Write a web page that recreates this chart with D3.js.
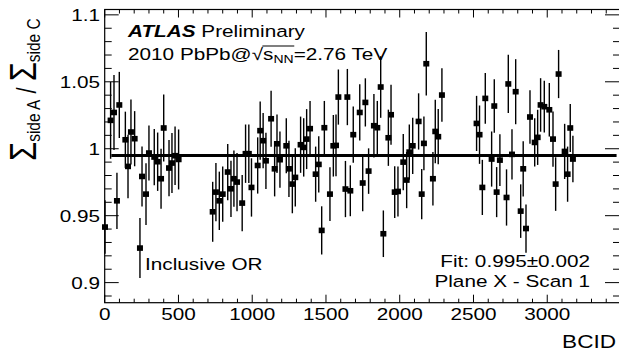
<!DOCTYPE html>
<html>
<head>
<meta charset="utf-8">
<script src="https://cdn.jsdelivr.net/npm/d3@7"></script>
<style>
  body { margin: 0; background: #fff; }
  text { font-family: "Liberation Sans", Arial, sans-serif; fill: #000; }
</style>
</head>
<body>
<script>
var w = 619;
var h = 354;

// plot frame (right edge sits just off the picture, as in the original)
var padL = 104.7, padR = 621, padT = 9.5, padB = 302.7;
var sx = 1.22; // the original picture is stretched sideways

var bcid = [
  2, 40, 63, 83, 99, 140, 158, 178, 203, 239, 253, 280, 300, 336, 359, 382, 400, 436, 456, 477, 501,
  732, 754, 777, 800, 834, 856, 876, 897, 932, 955, 977, 995, 1037, 1054, 1074, 1093, 1128, 1152, 1168,
  1188, 1231, 1249, 1272, 1292, 1328, 1349, 1369, 1392, 1430, 1451, 1471, 1489, 1527, 1550, 1568, 1584,
  1632, 1645, 1665, 1685, 1729, 1749, 1767, 1789, 1825, 1848, 1871, 1889, 1923, 1941, 1966, 1988, 2024,
  2047, 2065, 2088, 2128, 2149, 2164, 2180, 2225, 2241, 2261, 2286,
  2521, 2541, 2560, 2580, 2623, 2641, 2657, 2679, 2724, 2736, 2761, 2786, 2820, 2837, 2856, 2883, 2915,
  2935, 2955, 2980, 3014, 3039, 3057, 3077, 3118, 3138, 3156, 3174
];

var ratio = [
  0.9415, 1.0212, 1.0271, 0.9611, 1.0327, 1.0067, 0.9868, 1.0125, 1.0075, 0.9258, 0.9793, 0.9661, 0.9968,
  0.9938, 0.9903, 0.9776, 1.0155, 0.9856, 0.9893, 0.9948, 0.9920,
  0.9529, 0.9676, 0.9611, 0.9661, 0.9826, 0.9701, 0.9776, 0.9751, 0.9594, 0.9963, 0.9963, 0.9711, 0.9875,
  1.0135, 1.0060, 0.9910, 1.0224, 0.9850, 1.0037, 0.9918, 1.0022, 0.9850, 0.9736, 0.9786, 1.0030, 1.0010,
  1.0072, 1.0150, 0.9810, 0.9883, 0.9390, 1.0157, 0.9661, 1.0022, 1.0025, 1.0386, 0.9699, 1.0386, 0.9686,
  1.0105, 1.0271, 0.9744, 1.0346, 0.9833, 1.0172, 1.0157, 1.0461, 0.9365, 1.0082, 1.0254, 0.9676, 0.9681,
  0.9900, 0.9766, 0.9975, 1.0022, 1.0204, 0.9661, 1.0040, 1.0635, 0.9776, 1.0129, 1.0090, 1.0401,
  1.0189, 1.0105, 0.9711, 1.0376, 0.9923, 1.0319, 0.9676, 0.9915, 0.9636, 1.0484, 0.9958, 1.0426, 0.9534,
  0.9850, 0.9404, 1.0237, 1.0047, 1.0085, 1.0327, 1.0314, 1.0291, 1.0072, 0.9736, 1.0558, 0.9980, 0.9810,
  1.0155, 0.9923
];

var ratioErr = [
  0.020, 0.0287, 0.028, 0.021, 0.0247, 0.021, 0.0237, 0.0243, 0.0206, 0.0224, 0.0224, 0.023, 0.0206,
  0.021, 0.0218, 0.0224, 0.025, 0.021, 0.0224, 0.0218, 0.0224,
  0.0224, 0.0218, 0.0218, 0.0206, 0.021, 0.021, 0.021, 0.0218, 0.021, 0.0218, 0.0218, 0.0218, 0.021,
  0.0218, 0.0206, 0.021, 0.021, 0.0206, 0.0218, 0.021, 0.0206, 0.021, 0.0218, 0.0218, 0.021, 0.0218,
  0.0224, 0.0206, 0.0206, 0.021, 0.018, 0.020, 0.020, 0.023, 0.023, 0.0206, 0.021, 0.021, 0.019,
  0.021, 0.021, 0.021, 0.018, 0.017, 0.0237, 0.020, 0.023, 0.0174, 0.021, 0.0224, 0.0193, 0.0187,
  0.021, 0.021, 0.0206, 0.021, 0.021, 0.0187, 0.020, 0.0237, 0.020, 0.0237, 0.0206, 0.020,
  0.0206, 0.0218, 0.0206, 0.019, 0.0206, 0.020, 0.0187, 0.0193, 0.021, 0.0218, 0.0187, 0.0243, 0.020,
  0.0206, 0.018, 0.020, 0.018, 0.0206, 0.020, 0.0193, 0.020, 0.0206, 0.020, 0.018, 0.0206, 0.0206,
  0.018, 0.0174
];

var xTicks = [0, 500, 1000, 1500, 2000, 2500, 3000];
var yTicks = [0.9, 0.95, 1, 1.05, 1.1];
var yTickLabels = ["0.9", "0.95", "1", "1.05", "1.1"];

var fitValue = 0.995;
var fitRange = [45, 3470];

var x = d3.scaleLinear().domain([0, 3500]).range([padL, padR]);
var y = d3.scaleLinear().domain([0.885, 1.104]).range([padB, padT]);

var svg = d3.select("body").append("svg").attr("width", w).attr("height", h);

// helper: text stretched sideways like the original
function label(px, py, anchor, size) {
  return svg.append("g")
    .attr("transform", "translate(" + px + "," + py + ") scale(" + sx + ",1)")
    .append("text")
    .attr("text-anchor", anchor)
    .attr("font-size", size);
}

// frame lines
svg.append("rect")
  .attr("x", padL).attr("y", padT)
  .attr("width", padR - padL).attr("height", padB - padT)
  .attr("fill", "none").attr("stroke", "#000").attr("stroke-width", 1.2);

// ticks: bottom / top
var minorX = d3.range(0, 3501, 100);
svg.selectAll(".xt").data(minorX).enter().append("line")
  .attr("x1", (d) => x(d)).attr("x2", (d) => x(d))
  .attr("y1", padB).attr("y2", (d) => padB - (d % 500 === 0 ? 8 : 4))
  .attr("stroke", "#000").attr("stroke-width", 1);
svg.selectAll(".xtt").data(minorX).enter().append("line")
  .attr("x1", (d) => x(d)).attr("x2", (d) => x(d))
  .attr("y1", padT).attr("y2", (d) => padT + (d % 500 === 0 ? 8 : 4))
  .attr("stroke", "#000").attr("stroke-width", 1);

// ticks: left / right
var minorY = d3.range(89, 111, 1).map((d) => d / 100);
svg.selectAll(".yt").data(minorY).enter().append("line")
  .attr("y1", (d) => y(d)).attr("y2", (d) => y(d))
  .attr("x1", padL).attr("x2", (d) => padL + (Math.round(d * 100) % 5 === 0 ? 14 : 7))
  .attr("stroke", "#000").attr("stroke-width", 1);
svg.selectAll(".ytr").data(minorY).enter().append("line")
  .attr("y1", (d) => y(d)).attr("y2", (d) => y(d))
  .attr("x1", padR).attr("x2", (d) => padR - (Math.round(d * 100) % 5 === 0 ? 16 : 8))
  .attr("stroke", "#000").attr("stroke-width", 1);

// tick labels
xTicks.forEach(function (d) {
  label(x(d), 320, "middle", 17).text(d);
});
yTicks.forEach(function (d, i) {
  label(100, y(d) + 6, "end", 17).text(yTickLabels[i]);
});

// axis titles
label(616, 348, "end", 18.5).text("BCID");

var yt = svg.append("g")
  .attr("transform", "translate(36,161) scale(" + sx + ",1) rotate(-90)")
  .append("text").attr("font-size", 18);
yt.append("tspan").attr("font-size", 31).text("Σ");
yt.append("tspan").attr("font-size", 15.5).attr("dy", 3).text("side A");
yt.append("tspan").attr("font-size", 22).attr("dy", -3).text(" / ");
yt.append("tspan").attr("font-size", 31).text("Σ");
yt.append("tspan").attr("font-size", 15.5).attr("dy", 3).text("side C");

// fit line
svg.append("line")
  .attr("x1", x(fitRange[0])).attr("x2", x(fitRange[1]))
  .attr("y1", y(fitValue)).attr("y2", y(fitValue))
  .attr("stroke", "#000").attr("stroke-width", 3);

// error bars
svg.selectAll(".err").data(bcid).enter().append("line")
  .attr("x1", (d) => x(d)).attr("x2", (d) => x(d))
  .attr("y1", (d, i) => y(ratio[i] + ratioErr[i]))
  .attr("y2", (d, i) => y(ratio[i] - ratioErr[i]))
  .attr("stroke", "#000").attr("stroke-width", 1.4);

// markers
svg.selectAll(".pt").data(bcid).enter().append("rect")
  .attr("x", (d) => x(d) - 3)
  .attr("y", (d, i) => y(ratio[i]) - 2.8)
  .attr("width", 6).attr("height", 5.6)
  .attr("fill", "#000");

// text on the plot
var t1 = label(128, 37, "start", 17);
t1.append("tspan").attr("font-weight", "bold").attr("font-style", "italic").text("ATLAS");
t1.append("tspan").text(" Preliminary");

var g2 = svg.append("g").attr("transform", "translate(128,60) scale(" + sx + ",1)");
var t2 = g2.append("text").attr("font-size", 17);
t2.append("tspan").text("2010 PbPb@");
t2.append("tspan").text("√");
t2.append("tspan").text("s");
t2.append("tspan").attr("font-size", 11.5).attr("dy", 3).text("NN");
t2.append("tspan").attr("dy", -3).text("=2.76 TeV");
var n = t2.node();
g2.append("line")
  .attr("x1", n.getEndPositionOfChar(10).x - 0.5)
  .attr("x2", n.getEndPositionOfChar(13).x + 0.5)
  .attr("y1", -14).attr("y2", -14)
  .attr("stroke", "#000").attr("stroke-width", 1);

label(145, 270, "start", 17).text("Inclusive OR");
label(590, 267, "end", 17).text("Fit: 0.995±0.002");
label(590, 287, "end", 17).text("Plane X - Scan 1");
</script>
</body>
</html>
